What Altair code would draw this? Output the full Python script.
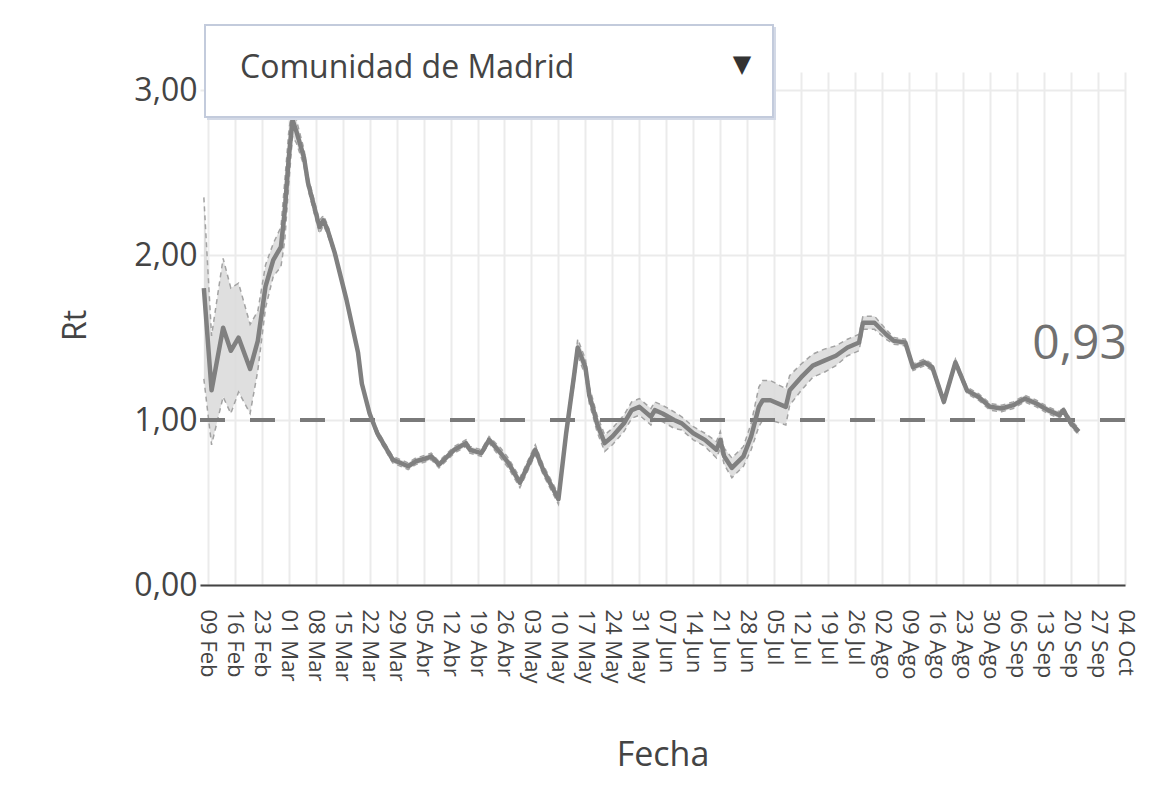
import altair as alt
import pandas as pd

# ---------------- data ----------------
dates = [
    "2020-02-08", "2020-02-10", "2020-02-13", "2020-02-15", "2020-02-17", "2020-02-20",
    "2020-02-22", "2020-02-24", "2020-02-26", "2020-02-28", "2020-02-29", "2020-03-01",
    "2020-03-02", "2020-03-03", "2020-03-05", "2020-03-06", "2020-03-09", "2020-03-10",
    "2020-03-11", "2020-03-13", "2020-03-16", "2020-03-19", "2020-03-20", "2020-03-22",
    "2020-03-24", "2020-03-26", "2020-03-28", "2020-04-01", "2020-04-03", "2020-04-06",
    "2020-04-07", "2020-04-09", "2020-04-13", "2020-04-16", "2020-04-17", "2020-04-20",
    "2020-04-22", "2020-04-25", "2020-04-27", "2020-04-30", "2020-05-04", "2020-05-06",
    "2020-05-10", "2020-05-12", "2020-05-14", "2020-05-15", "2020-05-17", "2020-05-18",
    "2020-05-19", "2020-05-20", "2020-05-22", "2020-05-24", "2020-05-27", "2020-05-29",
    "2020-05-31", "2020-06-03", "2020-06-04", "2020-06-06", "2020-06-09", "2020-06-11",
    "2020-06-14", "2020-06-17", "2020-06-20", "2020-06-21", "2020-06-22", "2020-06-24",
    "2020-06-27", "2020-06-29", "2020-07-01", "2020-07-02", "2020-07-04", "2020-07-08",
    "2020-07-09", "2020-07-12", "2020-07-15", "2020-07-18", "2020-07-21", "2020-07-24",
    "2020-07-27", "2020-07-28", "2020-07-31", "2020-08-03", "2020-08-05", "2020-08-08",
    "2020-08-10", "2020-08-13", "2020-08-15", "2020-08-18", "2020-08-21", "2020-08-24",
    "2020-08-27", "2020-08-30", "2020-09-02", "2020-09-05", "2020-09-08", "2020-09-11",
    "2020-09-14", "2020-09-17", "2020-09-18", "2020-09-20", "2020-09-22",
]
rt = [
    1.80, 1.18, 1.56, 1.42, 1.50, 1.31,
    1.48, 1.81, 1.97, 2.05, 2.27, 2.58,
    2.82, 2.75, 2.59, 2.44, 2.17, 2.21,
    2.16, 2.01, 1.73, 1.41, 1.22, 1.04,
    0.92, 0.84, 0.76, 0.72, 0.75, 0.77,
    0.78, 0.73, 0.82, 0.86, 0.82, 0.80,
    0.88, 0.80, 0.74, 0.62, 0.82, 0.70,
    0.52, 0.92, 1.26, 1.44, 1.32, 1.15,
    1.07, 0.98, 0.86, 0.90, 0.98, 1.06,
    1.08, 1.02, 1.06, 1.04, 1.00, 0.98,
    0.92, 0.88, 0.82, 0.88, 0.78, 0.71,
    0.78, 0.90, 1.08, 1.12, 1.12, 1.08,
    1.18, 1.26, 1.33, 1.36, 1.39, 1.44,
    1.47, 1.59, 1.59, 1.52, 1.48, 1.47,
    1.32, 1.35, 1.32, 1.11, 1.35, 1.18,
    1.14, 1.08, 1.07, 1.09, 1.13, 1.10,
    1.06, 1.03, 1.06, 0.98, 0.93,
]
# half width of the shaded confidence band
ci = [
    0.55, 0.33, 0.42, 0.38, 0.33, 0.27,
    0.18, 0.13, 0.10, 0.12, 0.18, 0.16,
    0.10, 0.07, 0.05, 0.04, 0.04, 0.03,
    0.03, 0.02, 0.02, 0.02, 0.02, 0.02,
    0.02, 0.02, 0.02, 0.02, 0.02, 0.02,
    0.02, 0.02, 0.02, 0.02, 0.02, 0.02,
    0.02, 0.03, 0.03, 0.03, 0.03, 0.03,
    0.03, 0.04, 0.05, 0.05, 0.05, 0.05,
    0.05, 0.05, 0.05, 0.05, 0.05, 0.05,
    0.05, 0.05, 0.05, 0.05, 0.05, 0.04,
    0.04, 0.04, 0.05, 0.05, 0.05, 0.06,
    0.06, 0.08, 0.12, 0.12, 0.12, 0.11,
    0.09, 0.08, 0.07, 0.07, 0.06, 0.05,
    0.05, 0.04, 0.04, 0.03, 0.02, 0.02,
    0.02, 0.02, 0.02, 0.02, 0.02, 0.02,
    0.02, 0.02, 0.02, 0.02, 0.02, 0.02,
    0.02, 0.02, 0.02, 0.02, 0.02,
]
threshold = [1.0]
y_ticks = [0, 1, 2, 3]
x_tick_dates = [d.strftime("%Y-%m-%d") for d in pd.date_range("2020-02-09", "2020-10-04", freq="7D")]
month_names = ["Ene", "Feb", "Mar", "Abr", "May", "Jun", "Jul", "Ago", "Sep", "Oct", "Nov", "Dic"]
region = "Comunidad de Madrid"

# ---------------- tables ----------------
df = pd.DataFrame({"fecha": dates, "rt": rt, "ci": ci})
df["lo"] = df["rt"] - df["ci"]
df["hi"] = df["rt"] + df["ci"]
thr_df = pd.DataFrame({"v": threshold})
last_df = pd.DataFrame({"label": [f"{rt[-1]:.2f}".replace(".", ",")]})
menu_df = pd.DataFrame({"label": [region], "arrow": ["\u25BC"]})

tick_ms = [int(pd.Timestamp(d, tz="UTC").value // 10**6) for d in x_tick_dates]
months_js = "[" + ",".join(f"'{m}'" for m in month_names) + "]"

FONT = "Open Sans"
TXT = "#444444"
W, H = 925, 513

x_enc = alt.X(
    "fecha:T",
    scale=alt.Scale(type="utc",
                    domain=[alt.DateTime(year=2020, month=2, date=7, utc=True),
                            alt.DateTime(year=2020, month=10, date=4, utc=True)]),
    axis=alt.Axis(
        values=tick_ms, tickCount=100,
        labelExpr=f"utcFormat(datum.value, '%d') + ' ' + {months_js}[utcmonth(datum.value)]",
        labelAngle=90, labelFontSize=22, labelFont=FONT, labelColor=TXT,
        labelPadding=24, labelOverlap=False, labelFlush=False,
        ticks=False, domain=True, domainColor="#444444", domainWidth=2,
        grid=True, gridColor="#ebebeb", gridWidth=2,
        title="Fecha", titleFont=FONT, titleFontSize=34, titleFontWeight="normal",
        titleColor=TXT, titleY=170, titleBaseline="middle",
    ),
)
y_enc = alt.Y(
    "lo:Q",
    scale=alt.Scale(domain=[0, 3.11], nice=False, zero=False),
    axis=alt.Axis(
        values=y_ticks, tickCount=10,
        labelExpr="replace(format(datum.value, '.2f'), '.', ',')",
        labelFontSize=32, labelFont=FONT, labelColor=TXT, labelPadding=3,
        ticks=False, domain=False, grid=True, gridColor="#ebebeb", gridWidth=2,
        title="Rt", titleFont=FONT, titleFontSize=32, titleFontWeight="normal",
        titleColor=TXT, titleX=-125, titleY=253, titleAngle=-90,
        titleAlign="center", titleBaseline="middle",
    ),
)

base = alt.Chart(df)

band = base.mark_area(color="#dcdcdc", opacity=0.9).encode(x=x_enc, y=y_enc, y2="hi:Q")
lo_line = base.mark_line(color="#a3a3a3", strokeWidth=1.5, strokeDash=[5, 4]).encode(
    x="fecha:T", y="lo:Q")
hi_line = base.mark_line(color="#a3a3a3", strokeWidth=1.5, strokeDash=[5, 4]).encode(
    x="fecha:T", y="hi:Q")
rule = alt.Chart(thr_df).mark_rule(color="#7a7a7a", strokeWidth=4, strokeDash=[25, 25]).encode(
    y="v:Q")
line = base.mark_line(color="#808080", strokeWidth=4.5, strokeJoin="round").encode(
    x="fecha:T", y="rt:Q")

last_txt = alt.Chart(last_df).mark_text(
    font=FONT, fontSize=48, color="#707070", align="right", baseline="middle"
).encode(text="label:N", x=alt.value(W + 2), y=alt.value(273))

shadow = alt.Chart(menu_df).mark_rect(color="#d3d9e6").encode(
    x=alt.value(7), x2=alt.value(576), y=alt.value(-45), y2=alt.value(48))
box = alt.Chart(menu_df).mark_rect(fill="white", stroke="#c3cbdc", strokeWidth=2).encode(
    x=alt.value(5), x2=alt.value(573), y=alt.value(-47), y2=alt.value(45))
menu_txt = alt.Chart(menu_df).mark_text(
    font=FONT, fontSize=32, color=TXT, align="left", baseline="middle"
).encode(text="label:N", x=alt.value(40), y=alt.value(-4))
arrow = alt.Chart(menu_df).mark_text(
    font="DejaVu Sans", fontSize=24, color="#333333", align="center", baseline="middle"
).encode(text="arrow:N", x=alt.value(542), y=alt.value(-7))

chart = alt.layer(band, lo_line, hi_line, rule, line, last_txt, shadow, box, menu_txt, arrow).properties(
    width=W, height=H,
    autosize=alt.AutoSizeParams(type="none"),
    padding={"left": 192, "top": 64, "right": 30, "bottom": 205},
    background="white",
).configure_view(stroke=None)

chart.save("out.html", embed_options={"renderer": "svg", "actions": False})
